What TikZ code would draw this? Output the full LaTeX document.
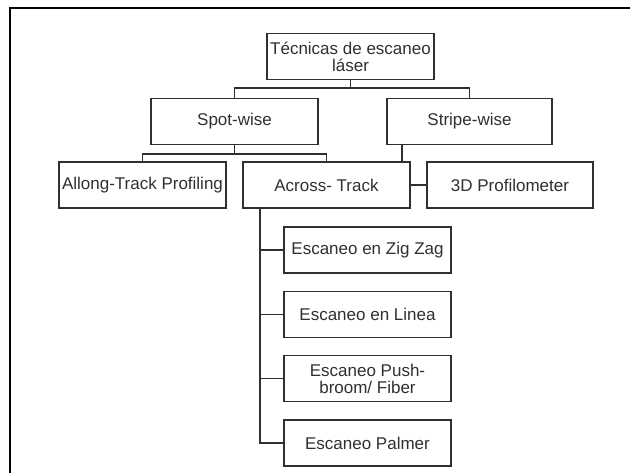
\documentclass[tikz,border=0pt]{standalone}
\usepackage{fontspec}
\setmainfont{Liberation Sans}
\begin{document}
\begin{tikzpicture}[x=1pt,y=-1pt,
  box/.style={draw=ink, line width=1.4pt, rectangle, minimum width=167pt,
    minimum height=46pt, inner sep=0pt, align=center, text=ink,
    font=\fontsize{17}{17}\selectfont},
  link/.style={draw=ink, line width=1.4pt}]
\definecolor{ink}{HTML}{303030}
\useasboundingbox[fill=white] (0,0) rectangle (630,473);
% outer frame (top and left edges)
\draw[line width=2pt, black] (10,473) -- (10,8) -- (630,8);

% boxes
\node[box] (top)    at (350.5,56.5) {Técnicas de escaneo\\láser};
\node[box] (spot)   at (234.5,121.5) {Spot-wise};
\node[box, minimum width=165pt] (stripe) at (469.5,121.5) {Stripe-wise};
\node[box] (allong) at (142.5,185) {Allong-Track Profiling};
\node[box] (across) at (326.5,185) {Across- Track};
\node[box, minimum width=166pt] (prof) at (510,185) {3D Profilometer};
\node[box] (zig)    at (367.5,250) {Escaneo en Zig Zag};
\node[box] (linea)  at (367.5,314.5) {Escaneo en Linea};
\node[box] (push)   at (367.5,378.5) {Escaneo Push-\\broom/ Fiber};
\node[box] (palmer) at (367.5,443) {Escaneo Palmer};

% helper coordinates for bus lines
\coordinate (busA) at (0,88);
\coordinate (busB) at (0,154);
\coordinate (sx) at (402,0);
\coordinate (tx) at (260,0);

% top level
\draw[link] (top.south) -- (top.south |- busA);
\draw[link] (spot.north) -- (spot.north |- busA) -- (stripe.north |- busA) -- (stripe.north);
% spot-wise children
\draw[link] (spot.south) -- (spot.south |- busB);
\draw[link] (allong.north) -- (allong.north |- busB) -- (across.north |- busB) -- (across.north);
% stripe-wise children
\draw[link] (stripe.south -| sx) -- (across.north -| sx);
\draw[link] (across) -- (prof);
% across-track children
\draw[link] (across.south -| tx) |- (palmer.west);
\draw[link] (zig.west -| tx) -- (zig.west);
\draw[link] (linea.west -| tx) -- (linea.west);
\draw[link] (push.west -| tx) -- (push.west);
\end{tikzpicture}
\end{document}
